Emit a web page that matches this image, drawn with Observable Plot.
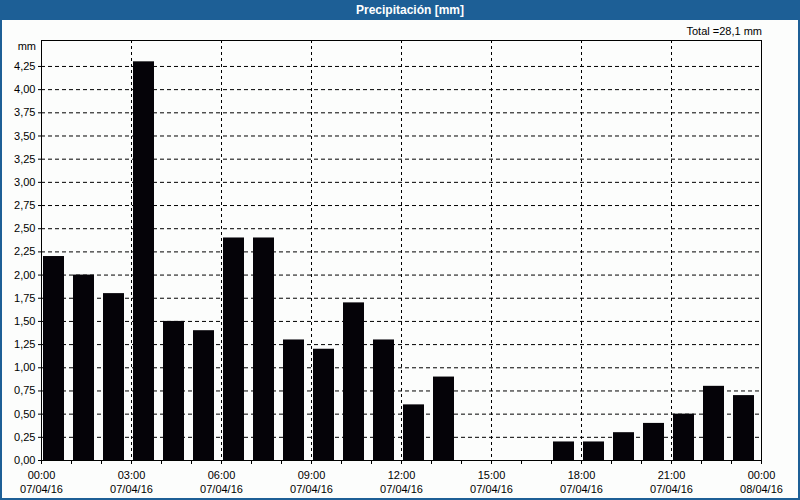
<!DOCTYPE html>
<html><head><meta charset="utf-8">
<script src="https://cdn.jsdelivr.net/npm/d3@7"></script>
<script src="https://cdn.jsdelivr.net/npm/@observablehq/plot@0.6"></script>
<style>
body{margin:0;background:#fcfdfc;font-family:"Liberation Sans",Arial,sans-serif;width:800px;height:500px;overflow:hidden;position:relative;}
#title{position:absolute;left:0;top:0;width:800px;height:20px;background:#1d5f96;color:#fff;font-weight:bold;font-size:12px;line-height:20px;text-align:center;text-indent:20px;}
.bd{position:absolute;background:#1d5f96;z-index:5;}
#chart{position:absolute;left:0;top:20px;}
#total{position:absolute;right:38px;top:25px;font-size:11px;color:#000;}
#unit{position:absolute;right:764px;top:40px;font-size:11px;color:#000;}
</style></head>
<body>
<div id="title">Precipitación [mm]</div>
<div class="bd" style="left:0;top:20px;width:2px;height:480px"></div>
<div class="bd" style="right:0;top:20px;width:2px;height:480px"></div>
<div class="bd" style="left:0;bottom:0;width:800px;height:2px"></div>
<div id="total">Total =28,1 mm</div>
<div id="unit">mm</div>
<div id="chart"></div>
<script>
const hoursOfDay = d3.range(0, 24);
const precip = [2.2, 2.0, 1.8, 4.3, 1.5, 1.4, 2.4, 2.4, 1.3, 1.2, 1.7, 1.3, 0.6, 0.9, 0, 0, 0, 0.2, 0.2, 0.3, 0.4, 0.5, 0.8, 0.7];
const tickHours = [0, 3, 6, 9, 12, 15, 18, 21, 24];
const timeLabels = ["00:00","03:00","06:00","09:00","12:00","15:00","18:00","21:00","00:00"];
const dateLabels = ["07/04/16","07/04/16","07/04/16","07/04/16","07/04/16","07/04/16","07/04/16","07/04/16","08/04/16"];
const yTicks = d3.range(0, 4.26, 0.25).map(v => +v.toFixed(2));

const data = hoursOfDay.map((h, i) => ({h, v: precip[i]}));

const chart = Plot.plot({
  width: 800,
  height: 478,
  marginLeft: 41,
  marginRight: 39,
  marginTop: 20,
  marginBottom: 38,
  style: {fontFamily: "Liberation Sans, Arial, sans-serif", fontSize: "11px", background: "transparent", color: "#000", overflow: "visible"},
  x: {domain: [0, 24]},
  y: {domain: [0, 4.53]},
  marks: [
    Plot.gridY(yTicks.filter(v => v > 0), {stroke: "#000", strokeOpacity: 1, strokeDasharray: "4,3"}),
    Plot.gridX(tickHours.filter(h => h > 0 && h < 24), {stroke: "#000", strokeOpacity: 1, strokeDasharray: "3,3"}),
    Plot.rectY(data, {x1: "h", x2: d => d.h + 1, y: "v", fill: "#050308", insetLeft: 2, insetRight: 7}),
    Plot.frame({stroke: "#000"}),
    Plot.axisY({ticks: yTicks, tickSize: 3, tickPadding: 3, tickFormat: d => d.toFixed(2).replace(".", ","), label: null}),
    Plot.axisX({ticks: d3.range(0, 25), tickSize: 4, tickPadding: 5, lineHeight: 1.27,
      tickFormat: h => { const i = tickHours.indexOf(h); return i < 0 ? "" : timeLabels[i] + "\n" + dateLabels[i]; },
      label: null})
  ]
});
document.getElementById("chart").appendChild(chart);
</script>
</body></html>
